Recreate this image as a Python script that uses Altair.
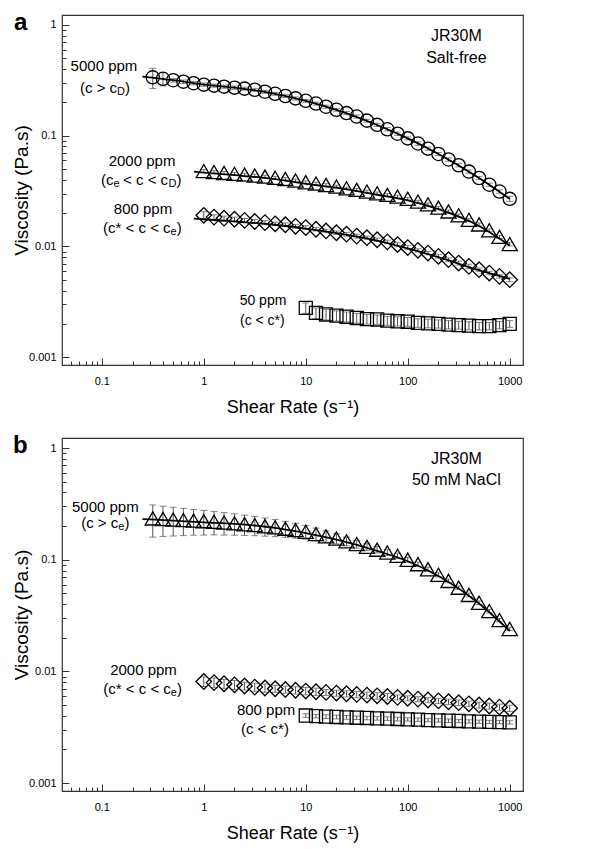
import altair as alt
import pandas as pd

FONT = "Liberation Sans, Arial, Helvetica, DejaVu Sans, sans-serif"
EB_COLOR = "#555555"
TICK_COLOR = "#333333"

# ---------------- data ----------------
shear_rate = [0.316, 0.398, 0.501, 0.631, 0.794, 1.0, 1.26, 1.58, 2.0, 2.51,
              3.16, 3.98, 5.01, 6.31, 7.94, 10.0, 12.6, 15.8, 20.0, 25.1,
              31.6, 39.8, 50.1, 63.1, 79.4, 100.0, 126.0, 158.0, 200.0, 251.0,
              316.0, 398.0, 501.0, 631.0, 794.0, 1000.0]
rate_from_1 = shear_rate[5:]
rate_from_10 = shear_rate[15:]

# Panel a (salt-free)
a_5000 = [0.3365, 0.3266, 0.3170, 0.3076, 0.2979, 0.2891, 0.2831, 0.2773, 0.2716, 0.2661,
          0.2600, 0.2495, 0.2388, 0.2280, 0.2173, 0.2065, 0.1950, 0.1828, 0.1714, 0.1600,
          0.1489, 0.1368, 0.1253, 0.1143, 0.1042, 0.0946, 0.0851, 0.0764, 0.0684, 0.0610,
          0.0541, 0.0474, 0.0415, 0.0361, 0.0313, 0.0269]
a_5000_err = [0.07, 0.045, 0.012, 0.011, 0.010, 0.010, 0.009, 0.009, 0.009, 0.008,
              0.008, 0.008, 0.007, 0.007, 0.007, 0.006, 0.006, 0.006, 0.005, 0.005,
              0.005, 0.004, 0.004, 0.004, 0.0035, 0.003, 0.003, 0.0025, 0.0022, 0.002,
              0.0018, 0.0016, 0.0014, 0.0012, 0.0011, 0.0015]
a_2000 = [0.0479, 0.0470, 0.0461, 0.0453, 0.0445, 0.0437, 0.0427, 0.0417, 0.0407, 0.0394,
          0.0380, 0.0370, 0.0359, 0.0347, 0.0335, 0.0324, 0.0313, 0.0302, 0.0292, 0.0282,
          0.0269, 0.0254, 0.0240, 0.0224, 0.0207, 0.0191, 0.0174, 0.0158, 0.0140, 0.0122,
          0.0105]
a_2000_err = [0.0015, 0.0014, 0.0014, 0.0013, 0.0013, 0.0012, 0.0012, 0.0012, 0.0011, 0.0011,
              0.0011, 0.0010, 0.0010, 0.0010, 0.0009, 0.0009, 0.0009, 0.0008, 0.0008, 0.0008,
              0.0007, 0.0007, 0.0007, 0.0006, 0.0006, 0.0005, 0.0005, 0.0005, 0.0004, 0.0004,
              0.0004]
a_800 = [0.0191, 0.0184, 0.0180, 0.0176, 0.0172, 0.0168, 0.0164, 0.0160, 0.0157, 0.0152,
         0.0148, 0.0143, 0.0138, 0.0133, 0.0129, 0.0124, 0.0120, 0.0115, 0.0110, 0.0104,
         0.00977, 0.00923, 0.00871, 0.00813, 0.00759, 0.00708, 0.00661, 0.00617, 0.00575, 0.00537,
         0.00501]
a_800_err = [0.0015, 0.0009, 0.0008, 0.0008, 0.0007, 0.0007, 0.0007, 0.0006, 0.0006, 0.0006,
             0.0006, 0.0005, 0.0005, 0.0005, 0.0005, 0.0005, 0.0004, 0.0004, 0.0004, 0.0004,
             0.0004, 0.0003, 0.0003, 0.0003, 0.0003, 0.0003, 0.0003, 0.0002, 0.0002, 0.0002,
             0.0002]
a_50 = [0.00279, 0.00251, 0.00243, 0.00237, 0.00232, 0.00226, 0.00221, 0.00219, 0.00214, 0.00211,
        0.00209, 0.00204, 0.00202, 0.00200, 0.00197, 0.00195, 0.00193, 0.00191, 0.00191, 0.00195,
        0.00200]
a_50_err = [0.0003, 0.00028, 0.00026, 0.00025, 0.00024, 0.00023, 0.00022, 0.00021, 0.0002, 0.0002,
            0.00019, 0.00018, 0.00018, 0.00017, 0.00017, 0.00016, 0.00016, 0.00015, 0.00015, 0.00015,
            0.00014]

fit_rate_5000 = [0.25, 0.5, 1, 2, 5, 10, 20, 50, 100, 200, 500, 1000]
fit_rate_low = [0.8, 1, 2, 5, 10, 20, 50, 100, 200, 500, 1000]
fit_a_5000 = [0.342, 0.317, 0.289, 0.272, 0.239, 0.2065, 0.171, 0.125, 0.0946, 0.0684, 0.0415, 0.0269]
fit_a_2000 = [0.0473, 0.0465, 0.0440, 0.0405, 0.0368, 0.0339, 0.0293, 0.0261, 0.0217, 0.0153, 0.0102]
fit_a_800 = [0.0178, 0.0176, 0.0168, 0.0157, 0.0145, 0.0132, 0.0113, 0.0096, 0.0080, 0.0061, 0.0051]

# Panel b (50 mM NaCl)
b_5000 = [0.2344, 0.2317, 0.2291, 0.2265, 0.2239, 0.2213, 0.2188, 0.2153, 0.2118, 0.2080,
          0.2042, 0.1995, 0.1950, 0.1897, 0.1841, 0.1778, 0.1698, 0.1622, 0.1549, 0.1462,
          0.1380, 0.1303, 0.1230, 0.1161, 0.1084, 0.1000, 0.0912, 0.0822, 0.0733, 0.0646,
          0.0562, 0.0484, 0.0412, 0.0347, 0.0288, 0.0240]
b_5000_err = [0.075, 0.07, 0.066, 0.062, 0.058, 0.055, 0.052, 0.049, 0.046, 0.043,
              0.040, 0.037, 0.034, 0.031, 0.028, 0.025, 0.022, 0.019, 0.016, 0.013,
              0.011, 0.009, 0.008, 0.007, 0.006, 0.005, 0.004, 0.0035, 0.003, 0.0025,
              0.002, 0.0018, 0.0015, 0.0012, 0.001, 0.0008]
b_2000 = [0.00813, 0.00794, 0.00776, 0.00759, 0.00741, 0.00724, 0.00711, 0.00700, 0.00689, 0.00678,
          0.00667, 0.00658, 0.00649, 0.00640, 0.00631, 0.00622, 0.00614, 0.00605, 0.00596, 0.00586,
          0.00575, 0.00565, 0.00555, 0.00545, 0.00535, 0.00525, 0.00513, 0.00501, 0.00490, 0.00479,
          0.00468]
b_2000_err = [0.0008, 0.0008, 0.0007, 0.0007, 0.0006, 0.0006, 0.0006, 0.0005, 0.0005, 0.0005,
              0.0005, 0.0005, 0.0004, 0.0004, 0.0004, 0.0004, 0.0004, 0.0004, 0.0004, 0.0003,
              0.0003, 0.0003, 0.0003, 0.0003, 0.0003, 0.0003, 0.0003, 0.0003, 0.0003, 0.0003,
              0.0003]
b_800 = [0.00403, 0.00398, 0.00394, 0.00391, 0.00388, 0.00385, 0.00383, 0.00380, 0.00378, 0.00375,
         0.00372, 0.00370, 0.00367, 0.00365, 0.00362, 0.00360, 0.00357, 0.00355, 0.00353, 0.00352,
         0.00350]
b_800_err = [0.00015, 0.00015, 0.00015, 0.00015, 0.00015, 0.00014, 0.00014, 0.00014, 0.00014, 0.00014,
             0.00013, 0.00013, 0.00013, 0.00013, 0.00013, 0.00012, 0.00012, 0.00012, 0.00012, 0.00012,
             0.00012]
fit_b_5000 = [0.231, 0.224, 0.216, 0.209, 0.193, 0.173, 0.151, 0.120, 0.097, 0.0715, 0.0405, 0.0230]

# axes
X_DOMAIN = [0.0407, 1350]
Y_DOMAIN = [0.00085, 1.23]
x_major = [0.1, 1, 10, 100, 1000]
x_minor = [0.05, 0.06, 0.07, 0.08, 0.09, 0.2, 0.3, 0.4, 0.5, 0.6, 0.7, 0.8, 0.9,
           2, 3, 4, 5, 6, 7, 8, 9, 20, 30, 40, 50, 60, 70, 80, 90,
           200, 300, 400, 500, 600, 700, 800, 900]
y_major = [0.001, 0.01, 0.1, 1]
y_minor = [0.002, 0.003, 0.004, 0.005, 0.006, 0.007, 0.008, 0.009,
           0.02, 0.03, 0.04, 0.05, 0.06, 0.07, 0.08, 0.09,
           0.2, 0.3, 0.4, 0.5, 0.6, 0.7, 0.8, 0.9]

# annotations: (text, rate, viscosity, font size, dx, dy, align, weight, baseline)
labels_a = [
    ("5000 ppm", 0.105, 0.4256, 15, 0, 0, "center", "normal", "middle"),
    ("(c > c", 0.0611, 0.2694, 15, 0, 0, "left", "normal", "middle"),
    ("D", 0.0611, 0.2694, 11, 37, 4, "left", "normal", "middle"),
    (")", 0.0611, 0.2694, 15, 45, 0, "left", "normal", "middle"),
    ("2000 ppm", 0.248, 0.059, 15, 0, 0, "center", "normal", "middle"),
    ("(c", 0.0983, 0.03975, 15, 0, 0, "left", "normal", "middle"),
    ("e", 0.0983, 0.03975, 11, 12.5, 4, "left", "normal", "middle"),
    ("< c < c", 0.0983, 0.03975, 15, 22, 0, "left", "normal", "middle"),
    ("D", 0.0983, 0.03975, 11, 67.5, 4, "left", "normal", "middle"),
    (")", 0.0983, 0.03975, 15, 75.5, 0, "left", "normal", "middle"),
    ("800 ppm", 0.2535, 0.02175, 15, 0, 0, "center", "normal", "middle"),
    ("(c* < c < c", 0.1028, 0.01466, 15, 0, 0, "left", "normal", "middle"),
    ("e", 0.1028, 0.01466, 11, 67.5, 4, "left", "normal", "middle"),
    (")", 0.1028, 0.01466, 15, 73.6, 0, "left", "normal", "middle"),
    ("50 ppm", 3.807, 0.003209, 14, 0, 0, "center", "normal", "middle"),
    ("(c < c*)", 2.265, 0.002118, 14, 0, 0, "left", "normal", "middle"),
    ("JR30M", 300, 0.7948, 16, 0, 0, "center", "normal", "middle"),
    ("Salt-free", 300, 0.5028, 16, 0, 0, "center", "normal", "middle"),
    ("a", 0.01378, 0.90, 24, 0, 0, "left", "bold", "alphabetic"),
]
labels_b = [
    ("5000 ppm", 0.1082, 0.2964, 15, 0, 0, "center", "normal", "middle"),
    ("(c > c", 0.0628, 0.2131, 15, 0, 0, "left", "normal", "middle"),
    ("e", 0.0628, 0.2131, 11, 37.1, 4, "left", "normal", "middle"),
    (")", 0.0628, 0.2131, 15, 43.2, 0, "left", "normal", "middle"),
    ("JR30M", 300, 0.797, 16, 0, 0, "center", "normal", "middle"),
    ("50 mM NaCl", 300, 0.517, 16, 0, 0, "center", "normal", "middle"),
    ("2000 ppm", 0.2564, 0.01029, 15, 0, 0, "center", "normal", "middle"),
    ("(c* < c < c", 0.1035, 0.006957, 15, 0, 0, "left", "normal", "middle"),
    ("e", 0.1035, 0.006957, 11, 67.5, 4, "left", "normal", "middle"),
    (")", 0.1035, 0.006957, 15, 73.6, 0, "left", "normal", "middle"),
    ("800 ppm", 4.083, 0.004512, 15, 0, 0, "center", "normal", "middle"),
    ("(c < c*)", 2.315, 0.003050, 15, 0, 0, "left", "normal", "middle"),
    ("b", 0.01348, 0.90, 24, 0, 0, "left", "bold", "alphabetic"),
]

# ---------------- helpers ----------------
XS = alt.Scale(type="log", domain=X_DOMAIN)
YS = alt.Scale(type="log", domain=Y_DOMAIN)


def xe(axis=None, field="rate:Q"):
    return alt.X(field, scale=XS, axis=axis)


def ye(field="visc:Q", axis=None):
    return alt.Y(field, scale=YS, axis=axis)


def series_layers(rates, vals, errs, shape, size):
    df = pd.DataFrame({"rate": rates, "visc": vals, "err": errs})
    base = alt.Chart(df)
    eb = base.transform_calculate(lo="datum.visc - datum.err", hi="datum.visc + datum.err")
    rule = eb.mark_rule(color=EB_COLOR, strokeWidth=1).encode(x=xe(), y=ye("lo:Q"), y2="hi:Q")
    cap_lo = eb.mark_tick(color=EB_COLOR, orient="horizontal", size=7, thickness=1).encode(x=xe(), y=ye("lo:Q"))
    cap_hi = eb.mark_tick(color=EB_COLOR, orient="horizontal", size=7, thickness=1).encode(x=xe(), y=ye("hi:Q"))
    pts = base.mark_point(shape=shape, size=size, filled=False, color="black",
                          strokeWidth=1.3, opacity=1).encode(x=xe(), y=ye())
    return [rule, cap_lo, cap_hi, pts]


def fit_layer(rates, vals):
    df = pd.DataFrame({"rate": rates, "visc": vals})
    return alt.Chart(df).mark_line(color="black", strokeWidth=1.8, interpolate="monotone").encode(x=xe(), y=ye())


def axis_layers(rates, vals):
    df = pd.DataFrame({"rate": rates, "visc": vals})
    base = alt.Chart(df).mark_point(opacity=0)
    main = base.encode(
        x=xe(alt.Axis(orient="bottom", values=x_major, format="~g", ticks=False, tickSize=0,
                      labelPadding=10, labelFontSize=11, labelFont=FONT, labelColor="black",
                      domain=False, grid=False, title="Shear Rate (s⁻¹)", titleFont=FONT,
                      titleFontSize=18, titleFontWeight="normal", titleColor="black", titlePadding=12)),
        y=ye(axis=alt.Axis(orient="left", values=y_major, format="~g", ticks=False, tickSize=0,
                           labelPadding=6, labelFontSize=11, labelFont=FONT, labelColor="black",
                           domain=False, grid=False, title="Viscosity (Pa.s)", titleFont=FONT,
                           titleFontSize=19, titleFontWeight="normal", titleColor="black", titleX=-31)),
    )
    xmaj = base.encode(
        x=xe(alt.Axis(orient="bottom", offset=-7, values=x_major, tickSize=7, tickColor=TICK_COLOR,
                      labels=False, domain=False, grid=False, title=None)),
        y=ye(),
    )
    xmin = base.encode(
        x=xe(alt.Axis(orient="bottom", offset=-4, values=x_minor, tickSize=4, tickColor=TICK_COLOR,
                      labels=False, domain=False, grid=False, title=None)),
        y=ye(),
    )
    ymaj = base.encode(
        x=xe(),
        y=ye(axis=alt.Axis(orient="left", offset=-7, values=y_major, tickSize=7, tickColor=TICK_COLOR,
                           labels=False, domain=False, grid=False, title=None)),
    )
    ymin = base.encode(
        x=xe(),
        y=ye(axis=alt.Axis(orient="left", offset=-4, values=y_minor, tickSize=4, tickColor=TICK_COLOR,
                           labels=False, domain=False, grid=False, title=None)),
    )
    return [main, xmaj, xmin, ymaj, ymin]


def text_layers(labels):
    out = []
    for (t, r, v, fs, dx, dy, al, wt, bl) in labels:
        df = pd.DataFrame({"rate": [r], "visc": [v], "t": [t]})
        out.append(alt.Chart(df).mark_text(font=FONT, fontSize=fs, fontWeight=wt, align=al,
                                           baseline=bl, dx=dx, dy=dy, color="black").encode(
            x=xe(), y=ye(), text="t:N"))
    return out


# ---------------- panel a ----------------
layers_a = axis_layers(shear_rate, a_5000)
layers_a += series_layers(shear_rate, a_5000, a_5000_err, "circle", 175)
layers_a += series_layers(rate_from_1, a_2000, a_2000_err, "triangle-up", 230)
layers_a += series_layers(rate_from_1, a_800, a_800_err, "diamond", 240)
layers_a += series_layers(rate_from_10, a_50, a_50_err, "square", 170)
layers_a += [fit_layer(fit_rate_5000, fit_a_5000), fit_layer(fit_rate_low, fit_a_2000),
             fit_layer(fit_rate_low, fit_a_800)]
layers_a += text_layers(labels_a)
panel_a = alt.layer(*layers_a).properties(width=461, height=350).resolve_axis(x="independent", y="independent")

# ---------------- panel b ----------------
layers_b = axis_layers(shear_rate, b_5000)
layers_b += series_layers(shear_rate, b_5000, b_5000_err, "triangle-up", 230)
layers_b += series_layers(rate_from_1, b_2000, b_2000_err, "diamond", 240)
layers_b += series_layers(rate_from_10, b_800, b_800_err, "square", 170)
layers_b += [fit_layer(fit_rate_5000, fit_b_5000)]
layers_b += text_layers(labels_b)
panel_b = alt.layer(*layers_b).properties(width=461, height=353).resolve_axis(x="independent", y="independent")

chart = alt.vconcat(panel_a, panel_b, spacing=16).properties(
    padding={"left": 3, "top": 2, "right": 5, "bottom": 5},
    background="white",
).configure_view(stroke="#333333", strokeWidth=1.2)

chart.save("out.html", embed_options={"renderer": "svg", "actions": False})
